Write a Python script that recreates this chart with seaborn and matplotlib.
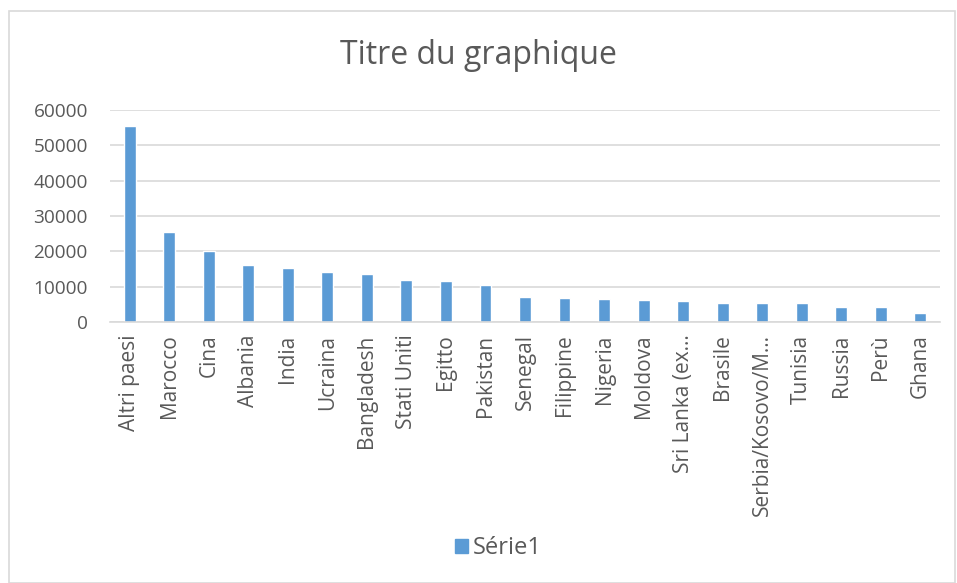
import matplotlib.pyplot as plt
import matplotlib.patches as mpatches
import seaborn as sns
import pandas as pd

# Data
paesi = [
    "Altri paesi", "Marocco", "Cina", "Albania", "India", "Ucraina",
    "Bangladesh", "Stati Uniti", "Egitto", "Pakistan", "Senegal",
    "Filippine", "Nigeria", "Moldova", "Sri Lanka (ex…", "Brasile",
    "Serbia/Kosovo/M…", "Tunisia", "Russia", "Perù", "Ghana",
]
valori = [
    55600, 25400, 20000, 16200, 15300, 14100,
    13700, 11800, 11600, 10400, 7100,
    6700, 6600, 6100, 6000, 5500,
    5400, 5300, 4200, 4200, 2600,
]
y_ticks = [0, 10000, 20000, 30000, 40000, 50000, 60000]

BAR = "#5B9BD5"
TEXT = "#595959"
GRID = "#D9D9D9"

sns.set_style("white")
plt.rcParams["font.family"] = ["Open Sans", "DejaVu Sans"]

df = pd.DataFrame({"Paese": paesi, "Valore": valori})

fig = plt.figure(figsize=(9.57, 5.83), dpi=100)
ax = fig.add_axes([110 / 957, 1 - 322 / 583, 830 / 957, 212 / 583])

sns.barplot(data=df, x="Paese", y="Valore", color=BAR, width=0.3,
            saturation=1, ax=ax)

ax.set_ylim(0, 60000)
ax.set_xlim(-0.5, len(paesi) - 0.5)
ax.set_yticks(y_ticks)
ax.set_yticklabels([str(v) for v in y_ticks])
ax.yaxis.grid(True, color=GRID, linewidth=1.2)
ax.set_axisbelow(True)
for s in ["top", "right", "left"]:
    ax.spines[s].set_visible(False)
ax.spines["bottom"].set_color(GRID)
ax.spines["bottom"].set_linewidth(1.2)

ax.tick_params(axis="y", length=0, pad=16, labelsize=13.7, labelcolor=TEXT)
ax.tick_params(axis="x", length=0, pad=9, labelsize=15, labelcolor=TEXT)
plt.setp(ax.get_xticklabels(), rotation=90, ha="center", va="top")
ax.set_xlabel("")
ax.set_ylabel("")

fig.text(0.5, 1 - 56 / 583, "Titre du graphique", ha="center", va="center",
         fontsize=23, color=TEXT)

handle = mpatches.Patch(color=BAR, label="Série1")
fig.legend(handles=[handle], loc="center", bbox_to_anchor=(498 / 957, 1 - 548 / 583),
           frameon=False, fontsize=17, labelcolor=TEXT, handlelength=0.55,
           handleheight=0.55, handletextpad=0.2)

# outer chart border
fig.patches.append(mpatches.Rectangle((9 / 957, 0), 1 - 9 / 957 - 0.002, 1 - 11 / 583,
                                      transform=fig.transFigure, fill=False,
                                      edgecolor=GRID, linewidth=1.2))

fig.savefig("out.png", dpi=100)
